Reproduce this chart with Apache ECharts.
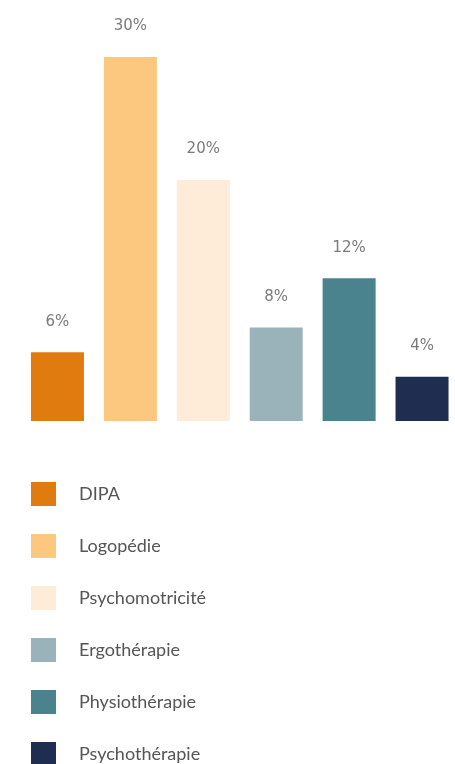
<!DOCTYPE html>
<html>
<head>
<meta charset="utf-8">
<script src="https://cdn.jsdelivr.net/npm/echarts@6/dist/echarts.min.js"></script>
<style>
  html, body { margin: 0; padding: 0; background: #fff; overflow: hidden; }
  #chart { width: 459px; height: 764px; }
</style>
</head>
<body>
<div id="chart"></div>
<script>
var categories = ['DIPA', 'Logopédie', 'Psychomotricité', 'Ergothérapie', 'Physiothérapie', 'Psychothérapie'];
var values = [6, 30, 20, 8, 12, 4];
var colors = ['#E07B10', '#FCC77F', '#FEEBD8', '#9AB2BA', '#4A838E', '#1F2D50'];

var chart = echarts.init(document.getElementById('chart'));

// one series per category so the legend lists each one
var series = categories.map(function (name, i) {
    var data = categories.map(function (c, j) { return j === i ? values[i] : '-'; });
    return {
        name: name,
        type: 'bar',
        stack: 'all',
        barWidth: 53,
        data: data,
        itemStyle: { color: colors[i] },
        label: {
            show: true,
            position: 'top',
            distance: 23,
            formatter: '{c}%',
            color: '#7a7a7a',
            fontFamily: 'DejaVu Sans',
            fontSize: 15
        }
    };
});

option = {
    backgroundColor: '#fff',
    animation: false,
    grid: {
        left: 21,
        top: 57,
        right: 0.5,
        bottom: 343
    },
    xAxis: {
        type: 'category',
        data: categories,
        show: false
    },
    yAxis: {
        type: 'value',
        min: 0.4,
        max: 30,
        show: false
    },
    legend: {
        orient: 'vertical',
        left: 31,
        top: 482,
        height: 400,
        padding: 0,
        icon: 'rect',
        itemWidth: 25,
        itemHeight: 24,
        itemGap: 28,
        textStyle: {
            color: '#555',
            fontFamily: 'Lato',
            fontSize: 18,
            padding: [0, 0, 0, 18]
        },
        data: categories
    },
    series: series
};

chart.setOption(option);
</script>
</body>
</html>
